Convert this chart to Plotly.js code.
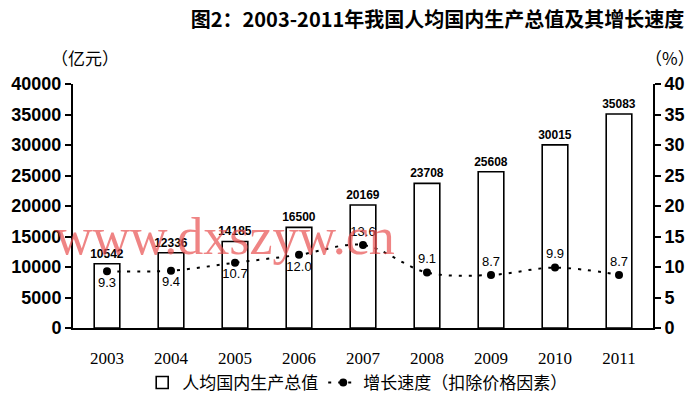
<!DOCTYPE html>
<html><head><meta charset="utf-8">
<script src="https://cdn.plot.ly/plotly-3.0.1.min.js"></script>
<style>body{margin:0;background:#fff}#chart{width:700px;height:398px}</style>
</head><body><div id="chart"></div>
<script>
const years = ['2003','2004','2005','2006','2007','2008','2009','2010','2011'];
const gdpPerCapita = [10542, 12336, 14185, 16500, 20169, 23708, 25608, 30015, 35083];
const growthRate = [9.3, 9.4, 10.7, 12.0, 13.6, 9.1, 8.7, 9.9, 8.7];
const growthLabels = ['9.3','9.4','10.7','12.0','13.6','9.1','8.7','9.9','8.7'];
const growthLabelPos = ['bottom center','bottom center','bottom center','bottom center','top center','top center','top center','top center','top center'];

const numFont = 'Liberation Sans, Arial, sans-serif';
const cjkFont = 'Noto Sans CJK SC, sans-serif';

const traces = [
  {
    type: 'bar', name: '人均国内生产总值', x: years, y: gdpPerCapita,
    width: 0.4,
    marker: {color: '#ffffff', line: {color: '#000', width: 1.6}},
    text: gdpPerCapita.map(String), textposition: 'outside', cliponaxis: false,
    constraintext: 'none',
    textfont: {family: numFont, size: 12, color: '#000', weight: 'bold'},
    hoverinfo: 'skip'
  },
  {
    type: 'scatter', name: '增长速度（扣除价格因素）', x: years, y: growthRate, yaxis: 'y2',
    mode: 'lines+markers+text',
    line: {color: '#000', width: 2, dash: '3px,7px', shape: 'spline', smoothing: 1},
    marker: {color: '#000', size: 8, symbol: 'circle'},
    text: growthLabels, textposition: growthLabelPos, cliponaxis: false,
    textfont: {family: numFont, size: 13, color: '#000'},
    hoverinfo: 'skip'
  }
];

const axisCommon = {
  showline: true, linecolor: '#000', linewidth: 2,
  ticks: 'outside', ticklen: 6, tickwidth: 2, tickcolor: '#000',
  showgrid: false, zeroline: false,
  tickfont: {family: numFont, size: 18, color: '#000', weight: 'bold'},
  fixedrange: true
};

const layout = {
  width: 700, height: 398,
  margin: {l: 73, r: 47, t: 84, b: 70, autoexpand: false},
  paper_bgcolor: '#fff', plot_bgcolor: '#fff',
  title: {
    text: '图2：2003-2011年我国人均国内生产总值及其增长速度',
    font: {family: cjkFont, size: 20, color: '#000', weight: 'bold'},
    x: 0.625, xanchor: 'center', xref: 'container',
    y: 0.95, yanchor: 'middle', yref: 'container'
  },
  xaxis: {
    type: 'category', showline: true, linecolor: '#000', linewidth: 2,
    ticks: '', showgrid: false, zeroline: false, ticklabelstandoff: 14,
    tickfont: {family: 'Liberation Serif, Times New Roman, serif', size: 17, color: '#000'}
  },
  yaxis: Object.assign({}, axisCommon, {range: [0, 40000], dtick: 5000, tickformat: 'd'}),
  yaxis2: Object.assign({}, axisCommon, {range: [0, 40], dtick: 5, overlaying: 'y', side: 'right', tickformat: 'd'}),
  showlegend: true,
  legend: {
    orientation: 'h', x: 0.49, xanchor: 'center', y: -0.225, yanchor: 'middle',
    font: {family: cjkFont, size: 17, color: '#000'}, itemwidth: 30,
    traceorder: 'normal', bgcolor: 'rgba(0,0,0,0)'
  },
  annotations: [
    {text: '（亿元）', xref: 'paper', yref: 'paper', x: 0.02, y: 1.107, showarrow: false,
     xanchor: 'center', yanchor: 'middle', font: {family: cjkFont, size: 17, color: '#000'}},
    {text: '（%）', xref: 'paper', yref: 'paper', x: 1.03, y: 1.107, showarrow: false,
     xanchor: 'center', yanchor: 'middle', font: {family: cjkFont, size: 17, color: '#000'}},
    {text: 'www.dxszyw.cn', xref: 'paper', yref: 'paper', x: -0.035, y: 0.375, showarrow: false,
     xanchor: 'left', yanchor: 'middle', font: {family: 'Liberation Serif, serif', size: 52, color: 'rgba(232,80,80,0.7)'}}
  ]
};

Plotly.newPlot('chart', traces, layout, {displayModeBar: false, staticPlot: true});
</script></body></html>
